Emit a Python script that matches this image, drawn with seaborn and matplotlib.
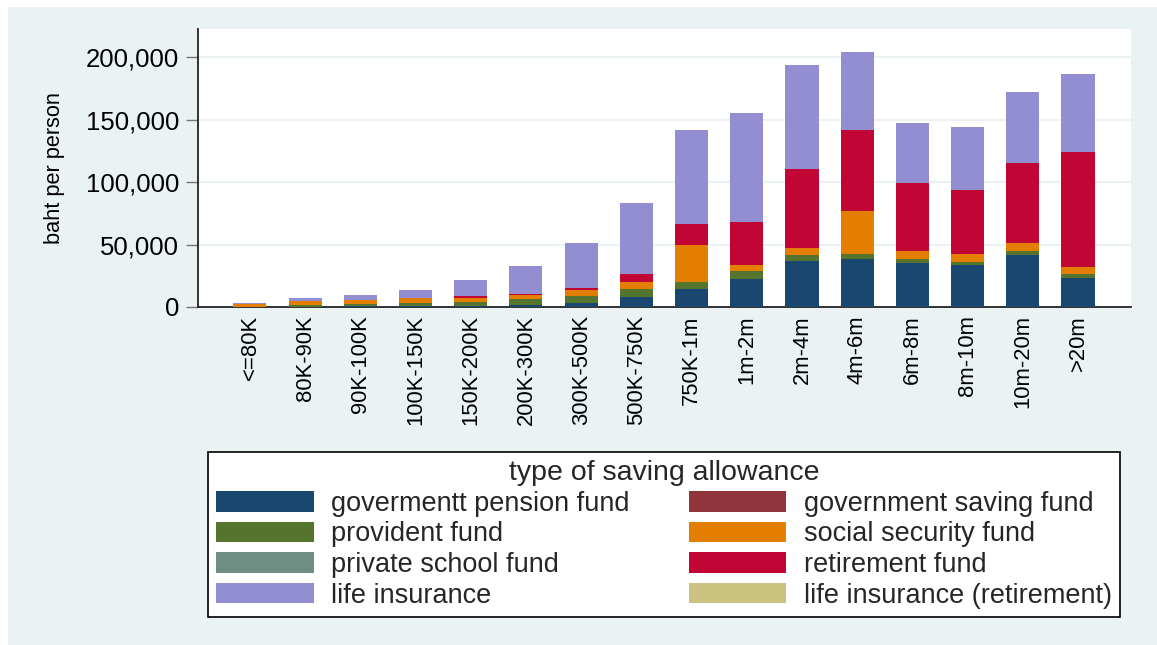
import numpy as np
import matplotlib
matplotlib.use("Agg")
import matplotlib.pyplot as plt
from matplotlib.patches import Patch, Rectangle
from matplotlib.ticker import FuncFormatter
import seaborn as sns

# income brackets
brackets = ["<=80K", "80K-90K", "90K-100K", "100K-150K", "150K-200K", "200K-300K",
            "300K-500K", "500K-750K", "750K-1m", "1m-2m", "2m-4m", "4m-6m",
            "6m-8m", "8m-10m", "10m-20m", ">20m"]

# baht per person
gov_pension = [200, 400, 500, 600, 800, 1300, 3200, 8000, 14500, 22800, 36700, 38800, 35300, 33500, 41800, 23600]
gov_saving = [0] * 16
provident = [200, 1000, 2200, 2600, 3200, 4800, 5600, 6200, 5600, 5900, 4800, 3700, 2900, 2700, 2700, 2700]
social_security = [2400, 3200, 3200, 4000, 3500, 3700, 4600, 5600, 29500, 4800, 5900, 34800, 6400, 6400, 6400, 5600]
private_school = [0] * 16
retirement = [0, 100, 100, 200, 1000, 800, 1900, 7000, 16900, 34800, 63200, 64500, 54600, 51100, 64500, 92400]
life_ins = [800, 2400, 3500, 6400, 12800, 22000, 35600, 56800, 75500, 87000, 83500, 62400, 48200, 50300, 56800, 62700]
life_ins_ret = [0] * 16

series_names = ["govermentt pension fund", "government saving fund", "provident fund",
                "social security fund", "private school fund", "retirement fund",
                "life insurance", "life insurance (retirement)"]
series_vals = [gov_pension, gov_saving, provident, social_security,
               private_school, retirement, life_ins, life_ins_ret]
colors = ["#1A476F", "#90353B", "#55752F", "#E37E00",
          "#6E8E84", "#C10534", "#938DD2", "#CAC27E"]

BG = "#EAF2F3"

sns.set_style("white")
plt.rcParams['font.family'] = ['Liberation Sans', 'DejaVu Sans']

fig = plt.figure(figsize=(11.57, 6.45), dpi=100, facecolor="white")
# stata style graph region, with a thin white strip top and left
fig.patches.append(Rectangle((8 / 1157, 0), 1 - 8 / 1157, 1 - 7 / 645,
                             transform=fig.transFigure, facecolor=BG,
                             edgecolor="none", zorder=-10))

ax = fig.add_axes([198 / 1157, (645 - 307) / 645, (1131 - 198) / 1157, (307 - 29) / 645])
ax.set_facecolor("white")

bottom = np.zeros(len(brackets))
for name, vals, c in zip(series_names, series_vals, colors):
    sns.barplot(x=brackets, y=vals, bottom=bottom, color=c, width=0.6,
                saturation=1, errorbar=None, ax=ax, linewidth=0, zorder=3)
    bottom = bottom + np.array(vals)

ax.set_xlim(-0.94, 15.96)
ax.set_ylim(0, 222800)
ax.set_yticks([0, 50000, 100000, 150000, 200000])
ax.yaxis.set_major_formatter(FuncFormatter(lambda v, p: f"{int(v):,}"))
ax.grid(axis="y", color=BG, linewidth=1.5, zorder=0)
ax.set_axisbelow(True)

for s in ["top", "right"]:
    ax.spines[s].set_visible(False)
for s in ["left", "bottom"]:
    ax.spines[s].set_color("#222222")
    ax.spines[s].set_linewidth(1.3)

ax.tick_params(axis="y", length=8.5, width=1, color="#777777", pad=5,
               labelsize=18.5, labelcolor="black", left=True)
ax.tick_params(axis="x", length=0, pad=6, labelsize=15.8, labelrotation=90,
               labelcolor="black")
for lab in ax.get_xticklabels():
    lab.set_verticalalignment("top")

ax.set_xlabel("")
ax.set_ylabel("baht per person", fontsize=15.7, color="black")
ax.yaxis.set_label_coords(-0.1425, 0.5)

# legend: stata lays it out row by row, matplotlib fills by column
order = [0, 2, 4, 6, 1, 3, 5, 7]
handles = [Patch(facecolor=colors[i], edgecolor="none") for i in order]
labels = [series_names[i] for i in order]
leg = fig.legend(handles, labels, ncol=2, loc="upper left",
                 bbox_to_anchor=(208 / 1157, (645 - 619) / 645, 912 / 1157, 167 / 645),
                 mode="expand", title="type of saving allowance",
                 fontsize=19.5, title_fontsize=20.5, frameon=True, fancybox=False,
                 edgecolor="black", facecolor="white", framealpha=1,
                 handlelength=3.6, handleheight=0.8, handletextpad=0.65,
                 labelspacing=0.17, borderpad=0.3, borderaxespad=0,
                 columnspacing=1.5)
leg.get_frame().set_linewidth(1.2)

fig.savefig("out.png", dpi=100, facecolor=fig.get_facecolor())
